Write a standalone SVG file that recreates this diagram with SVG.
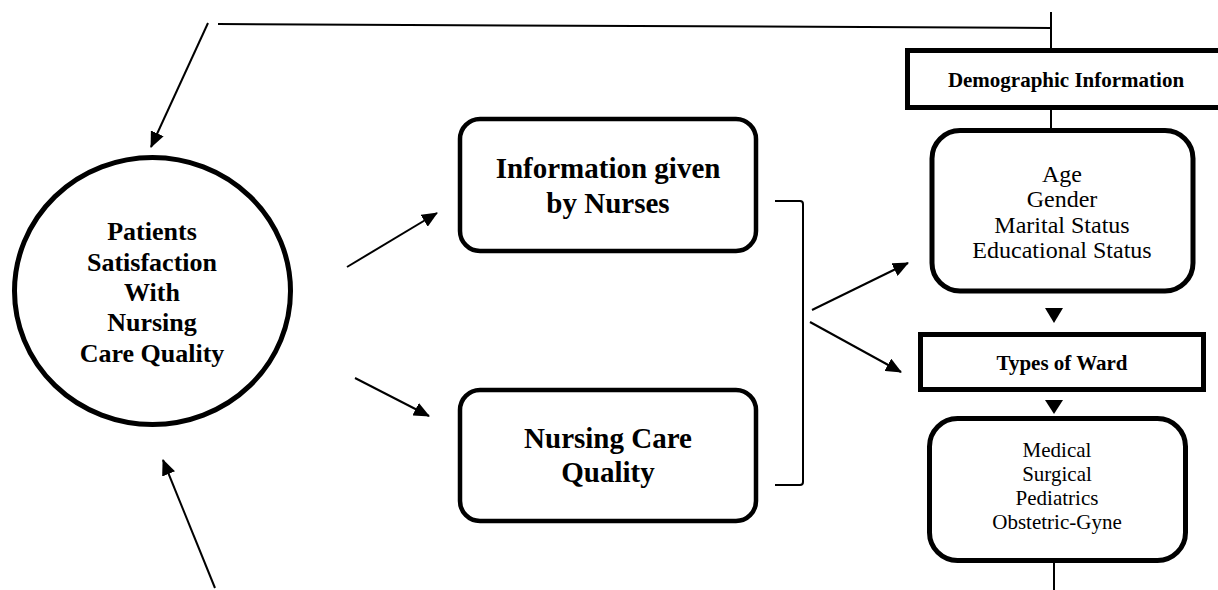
<svg xmlns="http://www.w3.org/2000/svg" width="1218" height="590" viewBox="0 0 1218 590">
<defs>
<marker id="ah" viewBox="0 0 16 14" refX="15" refY="7" markerWidth="16" markerHeight="14" markerUnits="userSpaceOnUse" orient="auto">
<path d="M0,0 L16,7 L0,14 z" fill="#000"/>
</marker>
<style>
.bt{font-family:"Liberation Serif","Times New Roman",serif;font-weight:bold;fill:#000;text-anchor:middle}
.rt{font-family:"Liberation Serif","Times New Roman",serif;fill:#000;text-anchor:middle}
.box{fill:#fff;stroke:#000;stroke-width:5}
.ln{fill:none;stroke:#000;stroke-width:2}
.arr{fill:none;stroke:#000;stroke-width:2;marker-end:url(#ah)}
</style>
</defs>
<rect width="1218" height="590" fill="#fff"/>
<g id="connectors">
<line class="ln" x1="218" y1="24" x2="1051" y2="28"/>
<line class="ln" x1="1051" y1="12" x2="1051" y2="50"/>
<line class="ln" x1="1051" y1="108" x2="1051" y2="129"/>
<line class="ln" x1="1054" y1="562" x2="1054" y2="590"/>
<line class="arr" x1="208" y1="23" x2="151" y2="147"/>
<line class="arr" x1="215" y1="588" x2="163" y2="460"/>
<line class="arr" x1="347" y1="267" x2="437" y2="213"/>
<line class="arr" x1="355" y1="378" x2="429" y2="416"/>
<path class="ln" d="M775,201 L800,201 Q803,201 803,204 L803,482 Q803,485 800,485 L775,485"/>
<line class="arr" x1="812" y1="310" x2="908" y2="263"/>
<line class="arr" x1="810" y1="322" x2="901" y2="372"/>
<polygon points="1045,308 1063,308 1054,323" fill="#000"/>
<polygon points="1045,400 1063,400 1054,414" fill="#000"/>
</g>
<g id="patients">
<ellipse cx="152.5" cy="291" rx="138" ry="133.5" fill="#fff" stroke="#000" stroke-width="5"/>
<text class="bt" font-size="26" x="152" y="240">Patients</text>
<text class="bt" font-size="26" x="152" y="271">Satisfaction</text>
<text class="bt" font-size="26" x="152" y="301">With</text>
<text class="bt" font-size="26" x="152" y="331">Nursing</text>
<text class="bt" font-size="26" x="152" y="362">Care Quality</text>
</g>
<g id="info">
<rect x="460" y="119" width="296" height="132" rx="20" fill="#fff" stroke="#000" stroke-width="4.5"/>
<text class="bt" font-size="29" x="608" y="178">Information given</text>
<text class="bt" font-size="29" x="608" y="213">by Nurses</text>
</g>
<g id="quality">
<rect x="460" y="390" width="296" height="131" rx="20" fill="#fff" stroke="#000" stroke-width="4.5"/>
<text class="bt" font-size="29" x="608" y="448">Nursing Care</text>
<text class="bt" font-size="29" x="608" y="482">Quality</text>
</g>
<g id="demographic">
<rect class="box" x="907.5" y="50.5" width="320" height="57"/>
<text class="bt" font-size="21" x="1066" y="87">Demographic Information</text>
</g>
<g id="demoitems">
<rect class="box" x="932" y="130.5" width="261" height="160.5" rx="28"/>
<text class="rt" font-size="24" x="1062" y="182">Age</text>
<text class="rt" font-size="24" x="1062" y="207">Gender</text>
<text class="rt" font-size="24" x="1062" y="233">Marital Status</text>
<text class="rt" font-size="24" x="1062" y="258">Educational Status</text>
</g>
<g id="ward">
<rect class="box" x="920.5" y="334.5" width="283" height="55"/>
<text class="bt" font-size="21" x="1062" y="370">Types of Ward</text>
</g>
<g id="wards">
<rect class="box" x="929.5" y="418.5" width="256" height="142" rx="28"/>
<text class="rt" font-size="21" x="1057" y="457">Medical</text>
<text class="rt" font-size="21" x="1057" y="481">Surgical</text>
<text class="rt" font-size="21" x="1057" y="505">Pediatrics</text>
<text class="rt" font-size="21" x="1057" y="529">Obstetric-Gyne</text>
</g>
</svg>
